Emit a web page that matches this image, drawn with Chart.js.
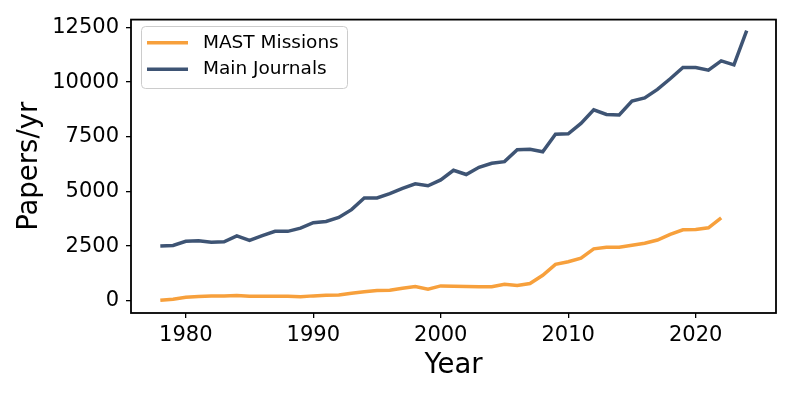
<!DOCTYPE html>
<html>
<head>
<meta charset="utf-8">
<script src="https://cdn.jsdelivr.net/npm/chart.js@4"></script>
<style>
  body { margin: 0; background: #fff; }
  #wrap { position: relative; width: 793px; height: 397px; }
</style>
</head>
<body>
<div id="wrap"><canvas id="grafico" width="793" height="397"></canvas></div>
<script>
// Anni e valori
const anniMain = [1978, 1979, 1980, 1981, 1982, 1983, 1984, 1985, 1986, 1987, 1988, 1989,
  1990, 1991, 1992, 1993, 1994, 1995, 1996, 1997, 1998, 1999, 2000, 2001, 2002, 2003,
  2004, 2005, 2006, 2007, 2008, 2009, 2010, 2011, 2012, 2013, 2014, 2015, 2016, 2017,
  2018, 2019, 2020, 2021, 2022, 2023, 2024];
const mainJournals = [2510, 2530, 2720, 2750, 2675, 2700, 2965, 2765, 2980, 3175, 3175, 3325,
  3570, 3630, 3810, 4170, 4700, 4700, 4900, 5140, 5350, 5260, 5530, 5970, 5775, 6105,
  6290, 6365, 6905, 6930, 6815, 7615, 7640, 8115, 8735, 8525, 8500, 9130, 9280, 9670,
  10155, 10670, 10670, 10550, 10970, 10790, 12360];

const anniMast = anniMain.slice(0, 45); // 1978 - 2022
const mastMissions = [20, 75, 165, 195, 225, 225, 240, 210, 210, 210, 210, 180,
  225, 255, 270, 350, 410, 470, 485, 575, 650, 530, 680, 665, 650, 640,
  640, 755, 700, 790, 1165, 1665, 1785, 1950, 2375, 2450, 2450, 2540, 2630, 2780,
  3040, 3250, 3265, 3340, 3795];

const tickAnni = [1980, 1990, 2000, 2010, 2020];
const tickPapers = [0, 2500, 5000, 7500, 10000, 12500];

const arancio = "#f7a03c";
const blu = "#3e5474";
const font = "DejaVu Sans";

function punti(xs, ys) {
  return xs.map((x, i) => ({ x: x, y: ys[i] }));
}

// Cornice nera attorno all'area del grafico
const cornice = {
  id: "cornice",
  afterDatasetsDraw(chart) {
    const a = chart.chartArea;
    const c = chart.ctx;
    c.save();
    c.strokeStyle = "#000";
    c.lineWidth = 1.8;
    c.strokeRect(a.left, a.top, a.right - a.left, a.bottom - a.top);
    c.restore();
  }
};

// Legenda dentro l'area, in alto a sinistra
const legenda = {
  id: "legenda",
  afterDraw(chart) {
    const c = chart.ctx;
    const x = 141, y = 26, w = 206, h = 62;
    c.save();
    c.beginPath();
    c.roundRect(x + 0.5, y + 0.5, w, h, 4);
    c.fillStyle = "rgba(255,255,255,0.8)";
    c.fill();
    c.strokeStyle = "#cccccc";
    c.lineWidth = 1;
    c.stroke();
    c.font = "18.5px '" + font + "'";
    c.textBaseline = "middle";
    chart.data.datasets.forEach((ds, i) => {
      const yy = y + 16.7 + i * 26.6;
      c.strokeStyle = ds.borderColor;
      c.lineWidth = 3.5;
      c.beginPath();
      c.moveTo(x + 6, yy);
      c.lineTo(x + 47, yy);
      c.stroke();
      c.fillStyle = "#000";
      c.fillText(ds.label, x + 62, yy);
    });
    c.restore();
  }
};

const ctx = document.getElementById("grafico").getContext("2d");

new Chart(ctx, {
  type: "line",
  data: {
    datasets: [
      {
        label: "MAST Missions",
        data: punti(anniMast, mastMissions),
        borderColor: arancio,
        borderWidth: 3.5,
        pointRadius: 0,
        tension: 0,
        fill: false
      },
      {
        label: "Main Journals",
        data: punti(anniMain, mainJournals),
        borderColor: blu,
        borderWidth: 3.5,
        pointRadius: 0,
        tension: 0,
        fill: false
      }
    ]
  },
  options: {
    responsive: false,
    animation: false,
    devicePixelRatio: 1,
    layout: { padding: { top: 17, right: 17, left: 0, bottom: 0 } },
    plugins: {
      legend: { display: false },
      tooltip: { enabled: false }
    },
    scales: {
      x: {
        type: "linear",
        min: 1975.7,
        max: 2026.3,
        afterFit(s) { s.height = 84; },
        afterBuildTicks(s) { s.ticks = tickAnni.map(v => ({ value: v })); },
        grid: { display: true, drawOnChartArea: false, drawTicks: true, tickLength: 5, color: "#000", lineWidth: 1.3 },
        border: { display: false },
        ticks: {
          color: "#000",
          font: { family: font, size: 21 },
          padding: 5,
          maxRotation: 0,
          callback: v => String(v)
        },
        title: {
          display: true,
          text: "Year",
          color: "#000",
          font: { family: font, size: 27.5 },
          padding: { top: 0, bottom: 15 }
        }
      },
      y: {
        type: "linear",
        min: -558,
        max: 12860,
        afterFit(s) { s.width = 131; },
        afterBuildTicks(s) { s.ticks = tickPapers.map(v => ({ value: v })); },
        grid: { display: true, drawOnChartArea: false, drawTicks: true, tickLength: 5, color: "#000", lineWidth: 1.3 },
        border: { display: false },
        ticks: {
          color: "#000",
          font: { family: font, size: 21 },
          padding: 7,
          callback: v => String(v)
        },
        title: {
          display: true,
          text: "Papers/yr",
          color: "#000",
          font: { family: font, size: 27.5 },
          padding: { top: 13, bottom: 0 }
        }
      }
    }
  },
  plugins: [cornice, legenda]
});
</script>
</body>
</html>
